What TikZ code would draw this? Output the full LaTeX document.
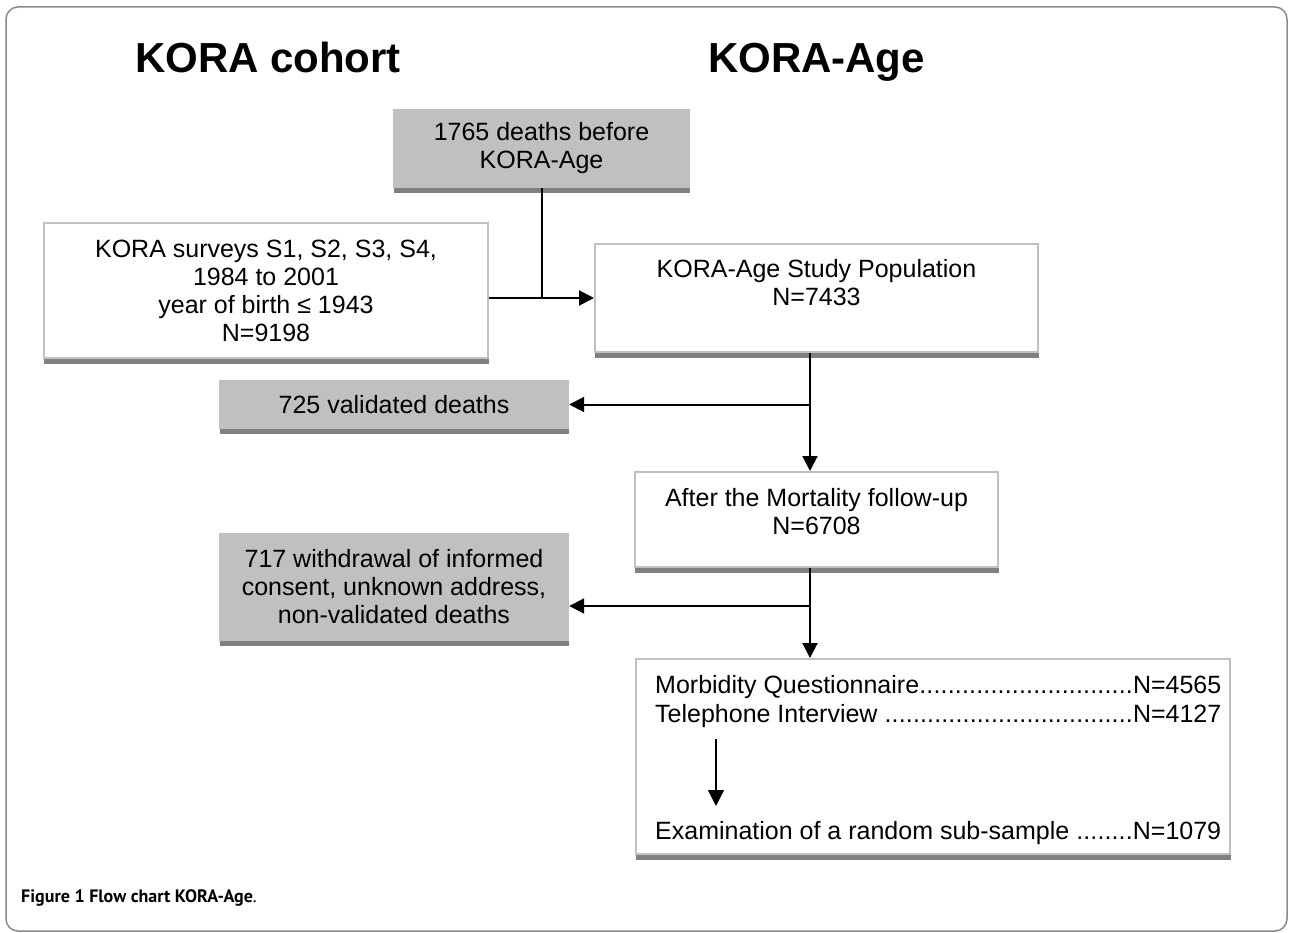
\documentclass[tikz,border=0pt]{standalone}
\usepackage{fontspec}
\setmainfont{Liberation Sans}
\newfontfamily\capfont{PT Sans}
\usetikzlibrary{arrows.meta,backgrounds}
\definecolor{boxgray}{HTML}{C0C0C0}
\definecolor{shadegray}{HTML}{808080}
\definecolor{edgegray}{HTML}{C0C0C0}
\definecolor{framegray}{HTML}{8A8A8A}
\newcommand\dotlead{\xleaders\hbox{.}\hfill}
\begin{document}
\begin{tikzpicture}[x=1pt,y=-1pt,
  body/.style={font=\fontsize{25}{28}\selectfont, align=center, inner sep=0pt},
  whitebox/.style={body, draw=edgegray, line width=2pt, fill=white},
  graybox/.style={body, fill=boxgray},
  titletext/.style={font=\fontsize{42}{48}\selectfont\bfseries, inner sep=0pt, anchor=base},
  rowtext/.style={font=\fontsize{25}{28}\selectfont, inner sep=0pt, anchor=base west},
  conn/.style={line width=2pt},
  arr/.style={conn, -{Triangle[length=15pt,width=15pt]}},
  inarr/.style={line width=1.3pt, -{Triangle[length=16pt,width=16pt]}}
]
\useasboundingbox (0,0) rectangle (1291,933);
\draw[framegray, line width=1.5pt, rounded corners=12pt] (6,7) rectangle (1287,931);

\node[titletext] (t1) at (268,73) {KORA cohort};
\node[titletext] (t2) at (816.5,73) {KORA-Age};

\node[graybox, minimum width=297pt, minimum height=79pt] (A) at (541.5,148.5) {1765 deaths before\\KORA-Age};
\node[whitebox, minimum width=444pt, minimum height=135pt] (B) at (266,290.5) {KORA surveys S1, S2, S3, S4,\\1984 to 2001\\year of birth ≤ 1943\\N=9198};
\node[whitebox, minimum width=443pt, minimum height=108pt] (C) at (816.5,298) {KORA-Age Study Population\\N=7433\\[4pt]\mbox{}};
\node[graybox, minimum width=350pt, minimum height=49pt] (D) at (394,404.5) {725 validated deaths};
\node[whitebox, minimum width=363pt, minimum height=95pt] (E) at (816.5,519.5) {After the Mortality follow-up\\N=6708\\[-11pt]\mbox{}};
\node[graybox, minimum width=350pt, minimum height=108pt] (F) at (394,587) {717 withdrawal of informed\\consent, unknown address,\\non-validated deaths};
\node[whitebox, minimum width=594pt, minimum height=195pt] (G) at (933,756.5) {};

\node[rowtext] (m1) at (655,693) {\hbox to 566pt{Morbidity Questionnaire\dotlead N=4565}};
\node[rowtext] (m2) at (655,722) {\hbox to 566pt{Telephone Interview\ \dotlead N=4127}};
\node[rowtext] (m3) at (655,839) {\hbox to 566pt{Examination of a random sub-sample\ \dotlead N=1079}};

\begin{scope}[on background layer]
\foreach \n in {A,B,C,D,E,F,G}
  \fill[shadegray] ([xshift=1pt]\n.south west) rectangle ([yshift=-5pt]\n.south east);
\end{scope}

\coordinate (j1) at (A.south |- C.west);
\draw[conn] (A.south) -- (j1);
\draw[arr] (B.east |- C.west) -- (C.west);

\coordinate (tr) at (810,0);
\draw[arr] (C.south -| tr) -- (E.north -| tr);
\draw[arr] (tr |- D.east) -- (D.east);
\draw[arr] (E.south -| tr) -- (G.north -| tr);
\coordinate (b2) at (810,606);
\draw[arr] (b2) -- (b2 -| F.east);

\coordinate (g1) at (716,739);
\coordinate (g2) at (716,806);
\draw[inarr] (g1) -- (g2);

\node[anchor=base west, inner sep=0pt, font=\capfont\fontsize{18}{20}\selectfont] (cap) at (21,902) {\textbf{Figure 1 Flow chart KORA-Age}.};
\end{tikzpicture}
\end{document}
